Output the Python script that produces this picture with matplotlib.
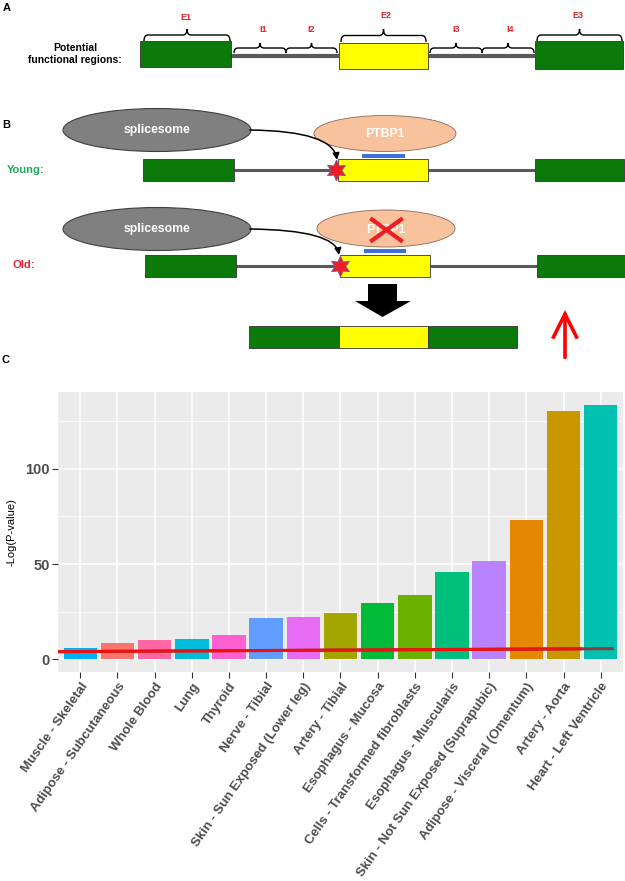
import numpy as np
import matplotlib.pyplot as plt
from matplotlib.patches import Rectangle, Ellipse, Polygon, PathPatch, FancyArrowPatch
from matplotlib.path import Path

plt.rcParams['font.family'] = ['Liberation Sans', 'DejaVu Sans']

# ---- data for panel C ----
tissues = ['Muscle - Skeletal', 'Adipose - Subcutaneous', 'Whole Blood', 'Lung', 'Thyroid',
           'Nerve - Tibial', 'Skin - Sun Exposed (Lower leg)', 'Artery - Tibial',
           'Esophagus - Mucosa', 'Cells - Transformed fibroblasts', 'Esophagus - Muscularis',
           'Skin - Not Sun Exposed (Suprapubic)', 'Adipose - Visceral (Omentum)',
           'Artery - Aorta', 'Heart - Left Ventricle']
neg_log_p = [5.8, 8.4, 9.9, 10.8, 12.6, 21.6, 22.2, 24.3, 29.7, 34.0, 45.9, 51.5, 73.3, 130.2, 133.7]
cutoff = [4.0, 5.6]  # red reference line, left end / right end

# ggplot default hue palette, assigned alphabetically
hue = ['#F8766D', '#E58700', '#C99800', '#A3A500', '#6BB100', '#00BA38', '#00BF7D', '#00C0AF',
       '#00BCD8', '#00B0F6', '#619CFF', '#B983FF', '#E76BF3', '#FD61D1', '#FF67A4']
colour_of = dict(zip(sorted(tissues), hue))

GREEN = '#0b7a0b'
YELLOW = '#ffff00'
LINE = '#5a5a5a'
RED_TXT = '#e8232b'

fig = plt.figure(figsize=(6.25, 8.81), dpi=100)
d = fig.add_axes([0, 0, 1, 1])
d.set_xlim(0, 625)
d.set_ylim(881, 0)
d.axis('off')


def box(x0, y0, x1, y1, fc):
    d.add_patch(Rectangle((x0, y0), x1 - x0, y1 - y0, fc=fc, ec='#333333', lw=0.6, zorder=3))


def brace(x0, x1, yb, ym, yt, r=4):
    xm = (x0 + x1) / 2
    verts = [(x0, yb), (x0, ym), (x0 + r, ym), (xm - r, ym), (xm, ym), (xm, yt),
             (xm, ym), (xm + r, ym), (x1 - r, ym), (x1, ym), (x1, yb)]
    codes = [Path.MOVETO, Path.CURVE3, Path.CURVE3, Path.LINETO, Path.CURVE3, Path.CURVE3,
             Path.CURVE3, Path.CURVE3, Path.LINETO, Path.CURVE3, Path.CURVE3]
    d.add_patch(PathPatch(Path(verts, codes), fc='none', ec='black', lw=1.0, zorder=4))


def label(x, y, s, **kw):
    d.text(x, y, s, ha='center', va='center', **kw)


# ---- panel A ----
label(7, 8, 'A', fontsize=8, fontweight='bold')
label(75, 54, 'Potential\nfunctional regions:', fontsize=7.5, fontweight='bold', linespacing=1.3)
d.plot([231, 339], [56, 56], color=LINE, lw=3, zorder=2, solid_capstyle='butt')
d.plot([428, 535], [56, 56], color=LINE, lw=3, zorder=2, solid_capstyle='butt')
box(140, 41, 231, 67, GREEN)
box(339, 43, 428, 69, YELLOW)
box(535, 41, 623, 69, GREEN)
brace(144, 230, 41, 35, 29)
brace(341, 426, 42, 35.5, 29)
brace(537, 622, 41, 35, 29)
for x0, x1 in [(234, 286), (286, 337), (430, 482), (482, 534)]:
    brace(x0, x1, 53, 48, 43)
for x, y, s in [(186, 17, 'E1'), (386, 16, 'E2'), (578, 16, 'E3'),
                (263, 29, 'I1'), (311, 29, 'I2'), (456, 30, 'I3'), (510, 30, 'I4')]:
    label(x, y, s, fontsize=6.5, fontweight='bold', color=RED_TXT)

# ---- panel B ----
label(6, 125, 'B', fontsize=8, fontweight='bold')


def gene_row(y0, y1, dx, star_x):
    yc = (y0 + y1) / 2
    d.plot([234 + dx, 339 + dx], [yc, yc], color=LINE, lw=2.2, zorder=2, solid_capstyle='butt')
    d.plot([428 + dx, 535 + dx], [yc, yc], color=LINE, lw=2.2, zorder=2, solid_capstyle='butt')
    box(143 + dx, y0, 234 + dx, y1, GREEN)
    box(338 + dx, y0, 428 + dx, y1, YELLOW)
    box(535 + dx, y0, 624 + dx, y1, GREEN)
    d.plot(star_x, yc, marker=(6, 1, 0), ms=15, mfc='#ee1c25', mec='#6a5aa8', mew=0.6, zorder=6)


def splicesome(cy, tip):
    d.add_patch(Ellipse((157, cy), 188, 43, fc='#808080', ec='#404040', lw=0.8, zorder=3))
    label(157, cy, 'splicesome', fontsize=8.8, fontweight='bold', color='white', zorder=4)
    verts = [(250, cy), (tip[0] - 4, cy + 1), tip]
    p = Path(verts, [Path.MOVETO, Path.CURVE3, Path.CURVE3])
    d.add_patch(FancyArrowPatch(path=p, arrowstyle='-|>,head_length=4,head_width=2',
                                color='black', lw=1.1, zorder=5))


# young
label(26, 170, 'Young:', fontsize=8, fontweight='bold', color='#1ea85a')
splicesome(130, (337, 160))
d.add_patch(Ellipse((385, 133.5), 142, 36, fc='#f8c29c', ec='#8a6a55', lw=0.6, zorder=3))
label(385, 134, 'PTBP1', fontsize=8.8, fontweight='bold', color='white', zorder=4)
d.add_patch(Rectangle((362, 153.5), 43, 4, fc='#3f6fd8', ec='none', zorder=3))
gene_row(159, 181, 0, 336)

# old
label(24, 265, 'Old:', fontsize=8, fontweight='bold', color=RED_TXT)
splicesome(229, (339, 255))
d.add_patch(Ellipse((386, 228.5), 138, 37, fc='#f8c29c', ec='#8a6a55', lw=0.6, zorder=3))
label(386, 230, 'PTBP1', fontsize=8.8, fontweight='bold', color='white', zorder=4)
d.plot([372, 401], [219.5, 240.5], color='#ee1c25', lw=3, zorder=5)
d.plot([372, 401], [240.5, 219.5], color='#ee1c25', lw=3, zorder=5)
d.add_patch(Rectangle((364, 249.3), 42, 4, fc='#3f6fd8', ec='none', zorder=3))
gene_row(254.5, 276.5, 1.5, 339.5)

# result
d.add_patch(Polygon([(368, 284), (397, 284), (397, 301), (411, 301), (382.5, 317),
                     (355, 301), (368, 301)], closed=True, fc='black', ec='none', zorder=3))
box(249, 326, 339, 348, GREEN)
box(339, 326, 428, 348, YELLOW)
box(428, 326, 517, 348, GREEN)
d.plot([565, 565], [357, 315], color='#ff0000', lw=2.6, zorder=3)
d.plot([553.5, 565, 576.5], [337, 314, 337], color='#ff0000', lw=2.6, zorder=3,
       solid_joinstyle='miter')

# ---- panel C ----
label(6, 360, 'C', fontsize=8, fontweight='bold')

ax = fig.add_axes([58 / 625, 1 - 672 / 881, 565 / 625, 280 / 881])
ax.set_facecolor('#ebebeb')
x = np.arange(len(tissues))
ax.bar(x, neg_log_p, width=0.9, color=[colour_of[t] for t in tissues], zorder=2)
ax.plot([-0.6, 14.35], cutoff, color='#8b3a3a', lw=2.2, zorder=3, solid_capstyle='butt')
ax.plot([-0.6, 13.5], [cutoff[0], cutoff[0] + (cutoff[1] - cutoff[0]) * 14.1 / 14.95],
        color='#ee1111', lw=2.2, zorder=4, solid_capstyle='butt')

top = max(neg_log_p)
ax.set_ylim(-0.05 * top, 1.05 * top)
ax.set_xlim(-0.6, len(tissues) - 0.4)
ax.set_yticks([0, 50, 100])
ax.set_yticks([25, 75, 125], minor=True)
ax.set_xticks(x)
ax.set_xticklabels(tissues, rotation=55, ha='right', va='top', rotation_mode='anchor',
                   fontsize=9.5, fontweight='bold', color='#4d4d4d')
for t in ax.get_yticklabels():
    t.set_fontsize(10.5)
    t.set_fontweight('bold')
    t.set_color('#4d4d4d')
ax.grid(which='major', color='white', lw=1.1, zorder=1)
ax.grid(which='minor', axis='y', color='white', lw=0.55, zorder=1)
ax.set_axisbelow(True)
ax.tick_params(which='major', color='#333333', length=4, width=0.8, pad=2)
ax.tick_params(which='minor', length=0)
for s in ax.spines.values():
    s.set_visible(False)
ax.set_ylabel('-Log(P-value)', fontsize=8)
ax.yaxis.set_label_coords(-0.074, 0.5)

fig.savefig('out.png', dpi=100)
